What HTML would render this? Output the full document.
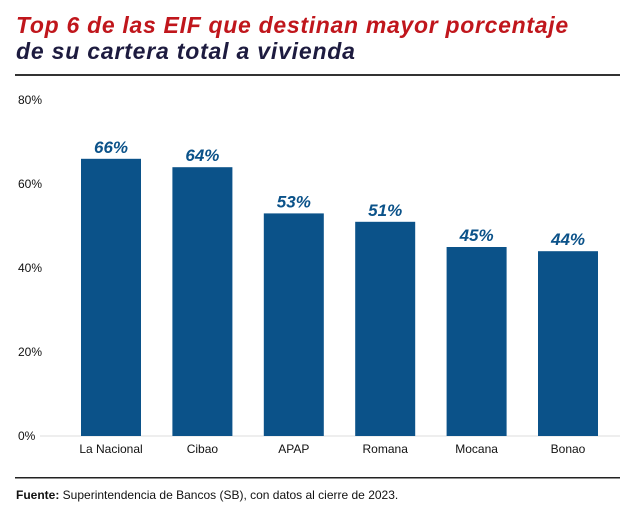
<!DOCTYPE html>
<html><head><meta charset="utf-8"><style>
body{margin:0;background:#fff;width:635px;height:513px;overflow:hidden;font-family:"Liberation Sans",sans-serif}
svg text{font-family:"Liberation Sans",sans-serif}
</style></head><body>
<svg width="635" height="513">
<text x="16" y="33" font-size="23" font-weight="bold" font-style="italic" letter-spacing="0.7" fill="#c0161c">Top 6 de las EIF que destinan mayor porcentaje</text>
<text x="16" y="59" font-size="23" font-weight="bold" font-style="italic" letter-spacing="0.8" fill="#1d1b3f">de su cartera total a vivienda</text>
<rect x="15" y="74" width="605" height="2" fill="#333"/>
<g id="axis"></g><g id="bars"></g>
<rect x="15" y="477" width="605" height="1.5" fill="#222"/>
<text x="16" y="499" font-size="12" fill="#111"><tspan font-weight="bold">Fuente:</tspan> Superintendencia de Bancos (SB), con datos al cierre de 2023.</text>
</svg>
<script>
const categories=["La Nacional","Cibao","APAP","Romana","Mocana","Bonao"];
const values=[66,64,53,51,45,44];
const labels=["66%","64%","53%","51%","45%","44%"];
const ticks=[0,20,40,60,80];
const NS="http://www.w3.org/2000/svg";
const y0=436,y80=100;
function y(v){return y0-(v/80)*(y0-y80);}
function x(i){return 111+i*91.4;}
const ax=document.getElementById('axis'),bg=document.getElementById('bars');
function mk(tag,attrs,parent,txt){const e=document.createElementNS(NS,tag);for(const k in attrs)e.setAttribute(k,attrs[k]);if(txt!==undefined)e.textContent=txt;parent.appendChild(e);return e;}
ticks.forEach(t=>{
 const e=mk('text',{x:18,y:y(t)+4,'font-size':12,fill:'#111'},ax,t+'%');
 
 
});
const g=mk('line',{x1:40,x2:620,y1:y0,y2:y0,stroke:'#ddd','stroke-width':1},ax);


values.forEach((v,i)=>{
 const r=mk('rect',{x:x(i)-30,y:y(v),width:60,height:y0-y(v),fill:'#0b5289'},bg);
 
 
 const l=mk('text',{x:x(i),y:y(v)-6,'font-size':17,'font-weight':'bold','font-style':'italic',fill:'#0b5289','text-anchor':'middle'},bg,labels[i]);
 
 
 const c=mk('text',{x:x(i),y:453,'font-size':12,fill:'#111','text-anchor':'middle'},bg,categories[i]);
 
 
});
</script>
</body></html>
